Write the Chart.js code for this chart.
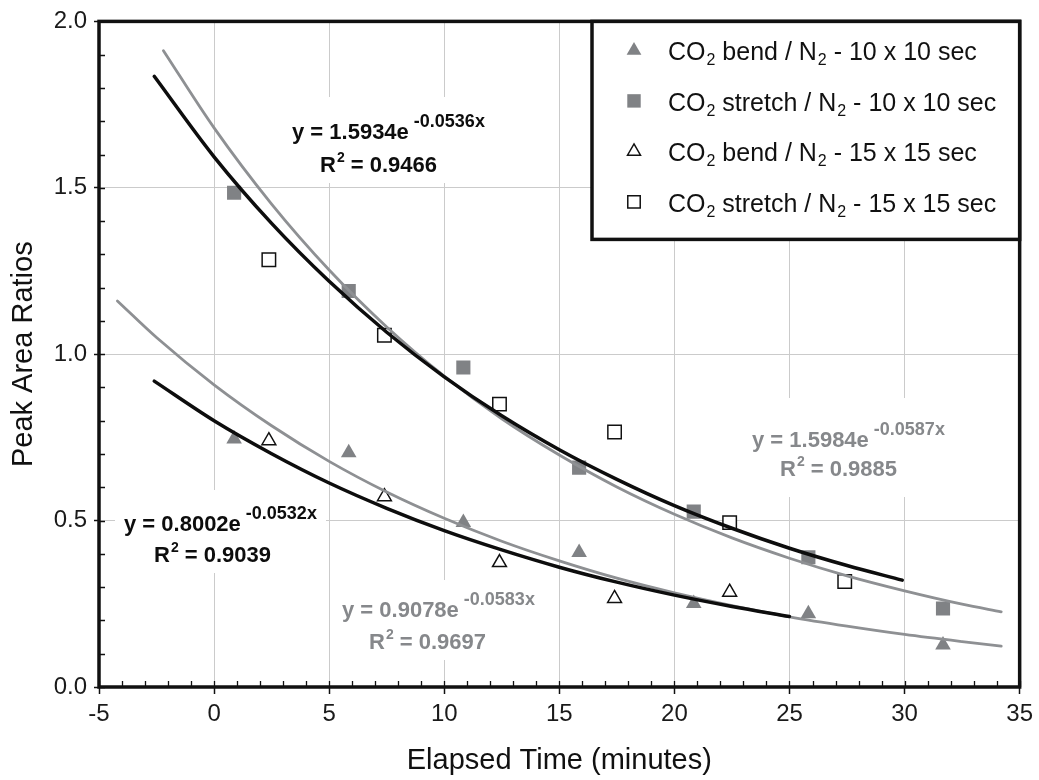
<!DOCTYPE html>
<html>
<head>
<meta charset="utf-8">
<script src="https://cdn.jsdelivr.net/npm/chart.js@4.4.1/dist/chart.umd.min.js"></script>
<style>
  html, body { margin: 0; padding: 0; background: #fff; }
</style>
</head>
<body>
<canvas id="chart" width="1039" height="780"></canvas>
<script>
const FONT = "'Liberation Sans', Arial, Helvetica, sans-serif";

// --- measured points (elapsed time in minutes, peak area ratio) ---
const bend10X = [0.87, 5.85, 10.83, 15.86, 20.84, 25.82, 31.67];
const bend10Y = [0.745, 0.704, 0.494, 0.404, 0.251, 0.22, 0.126];
const stretch10X = [0.87, 5.85, 10.83, 15.86, 20.84, 25.82, 31.67];
const stretch10Y = [1.485, 1.19, 0.96, 0.659, 0.527, 0.39, 0.236];
const bend15X = [2.38, 7.4, 12.4, 17.4, 22.4];
const bend15Y = [0.74, 0.572, 0.374, 0.266, 0.285];
const stretch15X = [2.38, 7.4, 12.4, 17.4, 22.4, 27.4];
const stretch15Y = [1.284, 1.057, 0.85, 0.766, 0.494, 0.317];

// --- trend curves ---
const upperBlackX = [-2.6, 0, 2.5, 5, 7.5, 10, 12.5, 15, 17.5, 20, 22.5, 25, 27.5, 29.9];
const upperBlackY = [1.835, 1.593, 1.393, 1.219, 1.066, 0.932, 0.815, 0.713, 0.624, 0.545, 0.477, 0.417, 0.365, 0.321];
const upperGrayX = [-2.2, 0, 2.5, 5, 7.5, 10, 12.5, 15, 17.5, 20, 22.5, 25, 27.5, 30, 32.5, 34.2];
const upperGrayY = [1.912, 1.68, 1.451, 1.253, 1.082, 0.934, 0.806, 0.697, 0.601, 0.519, 0.448, 0.387, 0.334, 0.289, 0.249, 0.226];
const lowerBlackX = [-2.6, 0, 2.5, 5, 7.5, 10, 12.5, 15, 17.5, 20, 22.5, 25];
const lowerBlackY = [0.919, 0.8, 0.701, 0.613, 0.537, 0.47, 0.412, 0.36, 0.315, 0.276, 0.242, 0.212];
const lowerGrayX = [-4.2, -2.5, 0, 2.5, 5, 7.5, 10, 12.5, 15, 17.5, 20, 22.5, 25, 27.5, 30, 32.5, 34.2];
const lowerGrayY = [1.16, 1.05, 0.908, 0.785, 0.678, 0.586, 0.507, 0.438, 0.379, 0.327, 0.283, 0.2445, 0.211, 0.183, 0.158, 0.1365, 0.123];

// --- ticks and texts ---
const xTicks = [-5, 0, 5, 10, 15, 20, 25, 30, 35];
const yTicks = [0, 0.5, 1, 1.5, 2];
const yTickLabels = ['0.0', '0.5', '1.0', '1.5', '2.0'];
const legendLabels = [
  'CO₂ bend / N₂ - 10 x 10 sec',
  'CO₂ stretch / N₂ - 10 x 10 sec',
  'CO₂ bend / N₂ - 15 x 15 sec',
  'CO₂ stretch / N₂ - 15 x 15 sec'
];
const eqMain = ['y = 1.5934e', 'y = 0.8002e', 'y = 1.5984e', 'y = 0.9078e'];
const eqPower = ['-0.0536x', '-0.0532x', '-0.0587x', '-0.0583x'];
const eqR2 = ['0.9466', '0.9039', '0.9885', '0.9697'];

const GRAY = '#808285';
const GRAY_LINE = '#8e9093';
const BLACK = '#0d0d0d';

// label layout (pixels): main text start/baseline, R² start/baseline, white box
const eqLayout = [
  { x: 292, y: 139, rx: 320, ry: 172, color: BLACK, box: [283, 97, 500, 183] },
  { x: 124, y: 531, rx: 154, ry: 562, color: BLACK, box: [115, 490, 326, 573] },
  { x: 752, y: 447, rx: 780, ry: 476, color: '#86888b', box: [745, 398, 950, 497] },
  { x: 342, y: 617, rx: 369, ry: 649, color: '#86888b', box: [335, 580, 545, 660] }
];

function pts(xs, ys){ return xs.map((x, i) => ({ x, y: ys[i] })); }

function curve(xs, ys, color, width){
  return { type: 'line', data: pts(xs, ys), borderColor: color, borderWidth: width, pointRadius: 0,
    fill: false, cubicInterpolationMode: 'monotone', borderCapStyle: 'round' };
}

function marks(label, xs, ys, style, radius, fill, stroke, bw){
  return { type: 'scatter', label, data: pts(xs, ys), pointStyle: style, pointRadius: radius,
    pointHoverRadius: radius, backgroundColor: fill, borderColor: stroke, borderWidth: bw };
}

// draws text where ₂ becomes a small lowered 2
function subText(ctx, s, x, y, size){
  let cx = x;
  s.split('₂').forEach((part, i) => {
    if (i > 0){
      ctx.font = Math.round(size * 0.62) + 'px ' + FONT;
      ctx.fillText('2', cx + 1, y + 5);
      cx += ctx.measureText('2').width + 1;
    }
    ctx.font = size + 'px ' + FONT;
    ctx.fillText(part, cx, y);
    cx += ctx.measureText(part).width;
  });
}

function marker(ctx, style, x, y, r, fill, stroke, bw){
  ctx.beginPath();
  if (style === 'triangle'){
    ctx.moveTo(x, y - r);
    ctx.lineTo(x + r * 0.866, y + r * 0.5);
    ctx.lineTo(x - r * 0.866, y + r * 0.5);
    ctx.closePath();
  } else {
    const h = r * Math.SQRT1_2;
    ctx.rect(x - h, y - h, 2 * h, 2 * h);
  }
  ctx.fillStyle = fill; ctx.fill();
  if (bw > 0){ ctx.lineWidth = bw; ctx.strokeStyle = stroke; ctx.stroke(); }
}

const decorPlugin = {
  id: 'decor',
  beforeDatasetsDraw(chart){
    const ctx = chart.ctx;
    ctx.save();
    eqLayout.forEach((p, i) => {
      ctx.fillStyle = '#fff';
      ctx.fillRect(p.box[0], p.box[1], p.box[2] - p.box[0], p.box[3] - p.box[1]);
      ctx.fillStyle = p.color;
      ctx.textAlign = 'left'; ctx.textBaseline = 'alphabetic';
      ctx.font = 'bold 22px ' + FONT;
      ctx.fillText(eqMain[i], p.x, p.y);
      const w = ctx.measureText(eqMain[i]).width;
      ctx.font = 'bold 18px ' + FONT;
      ctx.fillText(eqPower[i], p.x + w + 5, p.y - 12);
      ctx.font = 'bold 22px ' + FONT;
      ctx.fillText('R', p.rx, p.ry);
      const rw = ctx.measureText('R').width;
      ctx.font = 'bold 14px ' + FONT;
      ctx.fillText('2', p.rx + rw + 1, p.ry - 10);
      const w2 = ctx.measureText('2').width;
      ctx.font = 'bold 22px ' + FONT;
      ctx.fillText(' = ' + eqR2[i], p.rx + rw + 1 + w2, p.ry);
    });
    ctx.restore();
  },
  afterDatasetsDraw(chart){
    const ctx = chart.ctx;
    const a = chart.chartArea;
    const xs = chart.scales.x, ys = chart.scales.y;
    ctx.save();
    // minor ticks inside the frame
    ctx.strokeStyle = '#111'; ctx.lineWidth = 1.3;
    ctx.beginPath();
    for (let v = -5; v <= 35; v++){
      const px = Math.round(xs.getPixelForValue(v)) + 0.5;
      ctx.moveTo(px, a.bottom); ctx.lineTo(px, a.bottom - 6);
    }
    for (let k = 0; k <= 20; k++){
      const py = Math.round(ys.getPixelForValue(k / 10)) + 0.5;
      ctx.moveTo(a.left, py); ctx.lineTo(a.left + 6, py);
    }
    ctx.stroke();
    // frame
    ctx.lineWidth = 3.5; ctx.strokeStyle = '#111';
    ctx.strokeRect(a.left, a.top, a.right - a.left, a.bottom - a.top);

    // legend
    const lx = 592, ly = a.top, lw = a.right - 592, lh = 218;
    ctx.fillStyle = '#fff';
    ctx.fillRect(lx, ly, lw, lh);
    ctx.strokeRect(lx, ly, lw, lh);
    const sets = chart.data.datasets.filter(d => d.type === 'scatter');
    sets.forEach((d, i) => {
      const base = ly + 39 + i * 50.5;
      const filled = d.borderWidth === 0;
      const r = d.pointStyle === 'triangle' ? (filled ? 8.5 : 7.5) : (filled ? 9.5 : 8.8);
      marker(ctx, d.pointStyle, 634, base - 10, r, d.backgroundColor, d.borderColor, d.borderWidth);
      ctx.fillStyle = '#111';
      ctx.textAlign = 'left'; ctx.textBaseline = 'alphabetic';
      subText(ctx, legendLabels[i], 668, base, 25);
    });
    ctx.restore();
  }
};

const tickFont = { family: FONT, size: 24 };

new Chart(document.getElementById('chart'), {
  type: 'scatter',
  data: {
    datasets: [
      curve(upperBlackX, upperBlackY, BLACK, 3.5),
      curve(lowerBlackX, lowerBlackY, BLACK, 3.5),
      curve(upperGrayX, upperGrayY, GRAY_LINE, 2.8),
      curve(lowerGrayX, lowerGrayY, GRAY_LINE, 2.8),
      marks(legendLabels[0], bend10X, bend10Y, 'triangle', 9, GRAY, GRAY, 0),
      marks(legendLabels[1], stretch10X, stretch10Y, 'rect', 10, GRAY, GRAY, 0),
      marks(legendLabels[2], bend15X, bend15Y, 'triangle', 8, '#fff', '#111', 1.5),
      marks(legendLabels[3], stretch15X, stretch15Y, 'rect', 9.5, '#fff', '#111', 1.5)
    ]
  },
  options: {
    responsive: false,
    animation: false,
    layout: { padding: { top: 19, right: 17, left: 0, bottom: 0 } },
    plugins: { legend: { display: false }, tooltip: { enabled: false } },
    scales: {
      x: {
        type: 'linear', min: -5, max: 35,
        afterBuildTicks: s => { s.ticks = xTicks.map(v => ({ value: v })); },
        afterFit: s => { s.height = 93; },
        ticks: { font: tickFont, color: '#1a1a1a', padding: 6, maxRotation: 0, autoSkip: false,
          callback: v => String(v) },
        grid: { color: '#cbcbcb', lineWidth: 1, tickColor: '#111', tickLength: 7, tickWidth: 1.5 },
        border: { display: false },
        title: { display: true, text: 'Elapsed Time (minutes)', color: '#111',
          font: { family: FONT, size: 29 }, padding: { top: 0, bottom: 2 } }
      },
      y: {
        type: 'linear', min: 0, max: 2,
        afterBuildTicks: s => { s.ticks = yTicks.map(v => ({ value: v })); },
        afterFit: s => { s.width = 99; },
        ticks: { font: tickFont, color: '#1a1a1a', padding: 7, autoSkip: false,
          callback: (v, i) => yTickLabels[i] },
        grid: { color: '#cbcbcb', lineWidth: 1, tickColor: '#111', tickLength: 5, tickWidth: 1.5 },
        border: { display: false },
        title: { display: true, text: 'Peak Area Ratios', color: '#111',
          font: { family: FONT, size: 29 }, padding: { top: 7, bottom: 0 } }
      }
    }
  },
  plugins: [decorPlugin]
});
</script>
</body>
</html>
